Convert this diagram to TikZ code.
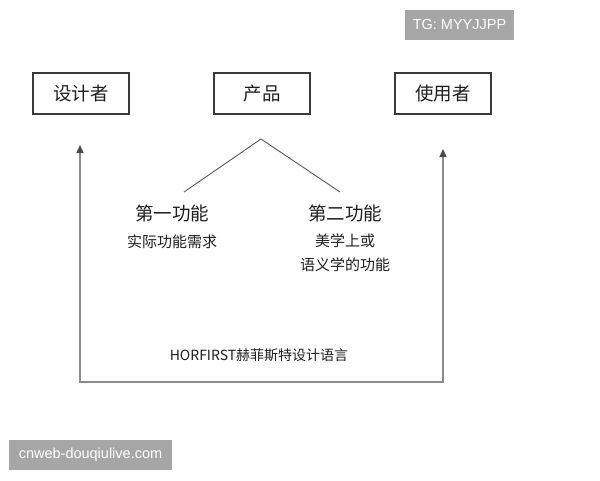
\documentclass[tikz,border=0pt]{standalone}
\usepackage{fontspec}
\setmainfont{Liberation Sans}
\newfontfamily\cjk{Noto Sans CJK SC}
\usetikzlibrary{arrows.meta}
\definecolor{wmgray}{HTML}{A6A6A6}
\definecolor{boxline}{HTML}{3A3A3A}
\definecolor{arrline}{HTML}{8C8C8C}
\definecolor{arrhead}{HTML}{4A4A4A}
\begin{document}
\begin{tikzpicture}[x=1pt,y=-1pt,
  actor/.style={draw=boxline,line width=1.2pt,minimum width=96pt,minimum height=41pt,inner sep=0pt,font=\cjk\fontsize{18.5}{18.5}\selectfont,text=black!88},
  fn/.style={font=\cjk\fontsize{18.5}{18.5}\selectfont,text=black!88,inner sep=0pt},
  sub/.style={font=\cjk\fontsize{15}{15}\selectfont,text=black!88,inner sep=0pt},
  flow/.style={draw=arrline,line width=1.3pt,-{Triangle[length=8pt,width=7pt,color=arrhead]}},
  tree/.style={draw=black!65,line width=0.9pt},
  wm/.style={fill=wmgray,text=white,inner sep=0pt,font=\fontsize{14.5}{14.5}\selectfont}
]
\useasboundingbox (0,0) rectangle (600,480);
\fill[white] (0,0) rectangle (600,480);
% watermarks
\node[wm,minimum width=109pt,minimum height=30pt] (tg) at (459.5,25) {TG: MYYJJPP};
\node[wm,minimum width=163pt,minimum height=30pt] (cw) at (90.5,455) {cnweb-douqiulive.com};
% boxes
\node[actor] (des) at (81,93.5) {设计者};
\node[actor] (prod) at (262,93.5) {产品};
\node[actor] (user) at (443,93.5) {使用者};
% tree
\coordinate (apex) at (261,139);
\coordinate (lend) at (184,192);
\coordinate (rend) at (340,192);
\draw[tree] (lend) -- (apex) -- (rend);
% functions
\node[fn] (f1) at (172,213) {第一功能};
\node[sub] (f1s) at (172,242) {实际功能需求};
\node[fn] (f2) at (345,213) {第二功能};
\node[sub] (f2s) at (345,241) {美学上或};
\node[sub] (f2t) at (345,265) {语义学的功能};
\node[font=\cjk\fontsize{14}{14}\selectfont,text=black!88,inner sep=0pt] (lang) at (259,355) {HORFIRST赫菲斯特设计语言};
% loop
\coordinate (bl) at (80,382);
\coordinate (br) at (443,382);
\coordinate (ltip) at (80,145);
\coordinate (rtip) at (443,149);
\draw[flow] (br) -- (bl) -- (ltip);
\draw[flow] (bl) -- (br) -- (rtip);
\end{tikzpicture}
\end{document}
